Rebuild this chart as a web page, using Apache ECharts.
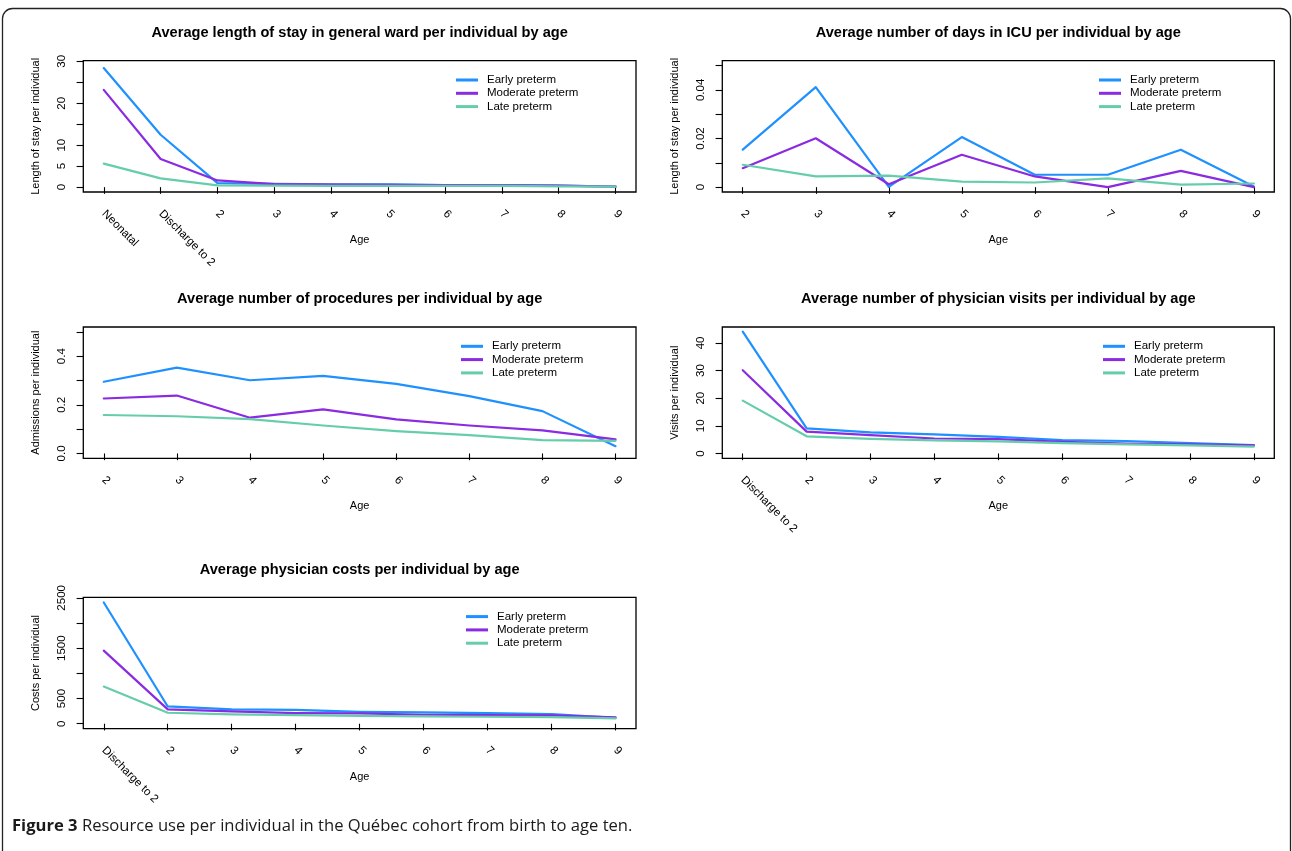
<!DOCTYPE html>
<html>
<head>
<meta charset="utf-8">
<script src="https://cdn.jsdelivr.net/npm/echarts@6/dist/echarts.min.js"></script>
<style>
html,body{margin:0;padding:0;background:#fff;}
#chart{width:1292px;height:851px;}
</style>
</head>
<body>
<div id="chart"></div>
<script>
// ---------- DATA ----------
const seriesNames = ['Early preterm', 'Moderate preterm', 'Late preterm'];

const catsWard = ['Neonatal', 'Discharge to 2', '2', '3', '4', '5', '6', '7', '8', '9'];
const catsAge = ['2', '3', '4', '5', '6', '7', '8', '9'];
const catsDischarge = ['Discharge to 2', '2', '3', '4', '5', '6', '7', '8', '9'];

// Panel 1: length of stay in general ward
const wardEarly    = [28.4, 12.5, 0.95, 0.8, 0.65, 0.65, 0.5, 0.5, 0.35, 0.15];
const wardModerate = [23.2, 6.7, 1.6, 0.7, 0.6, 0.55, 0.5, 0.45, 0.35, 0.1];
const wardLate     = [5.6, 2.1, 0.4, 0.35, 0.3, 0.3, 0.3, 0.3, 0.2, 0.1];
const wardTicks  = [0, 5, 10, 15, 20, 25, 30];
const wardLabels = [0, 5, 10, 20, 30];

// Panel 2: days in ICU
const icuEarly    = [0.0154, 0.0411, 0.0001, 0.0206, 0.0051, 0.0051, 0.0154, 0.0003];
const icuModerate = [0.0078, 0.0201, 0.0012, 0.0133, 0.0044, 0.0, 0.0067, 0.0];
const icuLate     = [0.0092, 0.0044, 0.0047, 0.0023, 0.0019, 0.0036, 0.0010, 0.0015];
const icuTicks  = [0, 0.01, 0.02, 0.03, 0.04, 0.05];
const icuLabels = [0, 0.02, 0.04];

// Panel 3: procedures
const procEarly    = [0.295, 0.353, 0.301, 0.319, 0.286, 0.236, 0.174, 0.030];
const procModerate = [0.226, 0.238, 0.147, 0.181, 0.140, 0.115, 0.095, 0.058];
const procLate     = [0.158, 0.153, 0.141, 0.115, 0.092, 0.075, 0.055, 0.052];
const procTicks  = [0, 0.1, 0.2, 0.3, 0.4, 0.5];
const procLabels = [0, 0.2, 0.4];

// Panel 4: physician visits
const visitEarly    = [44.1, 9.1, 7.6, 6.9, 6.0, 4.8, 4.5, 3.7, 3.0];
const visitModerate = [30.1, 7.9, 6.6, 5.4, 5.2, 4.2, 3.6, 3.3, 2.9];
const visitLate     = [19.1, 6.2, 5.3, 4.7, 4.4, 3.7, 3.3, 2.9, 2.5];
const visitTicks  = [0, 10, 20, 30, 40];
const visitLabels = [0, 10, 20, 30, 40];

// Panel 5: physician costs
const costEarly    = [2408, 343, 284, 277, 237, 224, 211, 191, 119];
const costModerate = [1451, 284, 244, 211, 204, 178, 171, 165, 125];
const costLate     = [739, 218, 185, 171, 158, 145, 139, 132, 106];
const costTicks  = [0, 500, 1000, 1500, 2000, 2500];
const costLabels = [0, 500, 1500, 2500];

// ---------- LAYOUT / STYLE ----------
const colors = ['#1E90FF', '#8A2BE2', '#66CDAA'];
const FONT = 'Liberation Sans, Arial, Helvetica, sans-serif';

const panels = [
  { title: 'Average length of stay in general ward per individual by age', yName: 'Length of stay per individual',
    cats: catsWard, data: [wardEarly, wardModerate, wardLate], yMin: -1.16, yMax: 30.16,
    ticks: wardTicks, labels: wardLabels, fmt: v => String(v),
    box: [83.3, 60.7, 552.7, 131.3], legendLeft: 456 },
  { title: 'Average number of days in ICU per individual by age', yName: 'Length of stay per individual',
    cats: catsAge, data: [icuEarly, icuModerate, icuLate], yMin: -0.002, yMax: 0.052,
    ticks: icuTicks, labels: icuLabels, fmt: v => (v === 0 ? '0' : v.toFixed(2)),
    box: [722.3, 60.7, 552, 131.3], legendLeft: 1099 },
  { title: 'Average number of procedures per individual by age', yName: 'Admissions per individual',
    cats: catsAge, data: [procEarly, procModerate, procLate], yMin: -0.02, yMax: 0.52,
    ticks: procTicks, labels: procLabels, fmt: v => v.toFixed(1),
    box: [83.3, 327, 552.7, 131.3], legendLeft: 461 },
  { title: 'Average number of physician visits per individual by age', yName: 'Visits per individual',
    cats: catsDischarge, data: [visitEarly, visitModerate, visitLate], yMin: -1.76, yMax: 45.76,
    ticks: visitTicks, labels: visitLabels, fmt: v => String(v),
    box: [722.3, 327, 552, 131.3], legendLeft: 1103 },
  { title: 'Average physician costs per individual by age', yName: 'Costs per individual',
    cats: catsDischarge, data: [costEarly, costModerate, costLate], yMin: -96.6, yMax: 2510.6,
    ticks: costTicks, labels: costLabels, fmt: v => String(v),
    box: [83.3, 597.3, 552.7, 131.3], legendLeft: 466 }
];

const textBase = { color: '#000', fontFamily: FONT };

const option = {
  animation: false,
  backgroundColor: '#fff',
  grid: panels.map(p => ({
    left: p.box[0], top: p.box[1], width: p.box[2], height: p.box[3],
    show: true, borderColor: '#000', borderWidth: 1.3, backgroundColor: 'transparent',
    containLabel: false, outerBoundsMode: 'none'
  })),
  xAxis: panels.map((p, i) => {
    const n = p.cats.length;
    const pad = 0.04 * (n - 1);
    const idx = p.cats.map((_, k) => k + 1);
    return {
      type: 'value', gridIndex: i, min: 1 - pad, max: n + pad,
      axisLine: { show: false },
      axisTick: { show: true, length: 6.7, lineStyle: { color: '#000', width: 1.1 }, customValues: idx },
      axisLabel: { customValues: idx, formatter: v => p.cats[Math.round(v) - 1], rotate: -45, margin: 20,
                   fontSize: 11.5, ...textBase },
      splitLine: { show: false },
      name: 'Age', nameLocation: 'middle', nameGap: 42.5, nameMoveOverlap: false,
      nameTextStyle: { fontSize: 11, ...textBase }
    };
  }),
  yAxis: panels.map((p, i) => ({
    type: 'value', gridIndex: i, min: p.yMin, max: p.yMax,
    axisLine: { show: false },
    axisTick: { show: true, length: 6.7, lineStyle: { color: '#000', width: 1.1 }, customValues: p.ticks },
    axisLabel: { customValues: p.labels, formatter: v => p.fmt(v), rotate: 90, margin: 15,
                 fontSize: 11.5, ...textBase },
    splitLine: { show: false },
    name: p.yName, nameLocation: 'middle', nameGap: 42, nameRotate: 90, nameMoveOverlap: false,
    nameTextStyle: { fontSize: 11, ...textBase }
  })),
  legend: panels.map(p => ({
    data: seriesNames, orient: 'vertical', left: p.legendLeft, top: p.box[1] + 12.65,
    itemWidth: 22, itemHeight: 3, itemGap: 0, icon: 'rect', padding: 0, selectedMode: false,
    textStyle: { fontSize: 11.5, lineHeight: 13.3, padding: [0, 0, 0, 4], ...textBase }
  })),
  series: [],
  graphic: []
};

panels.forEach((p, i) => {
  p.data.forEach((vals, s) => {
    option.series.push({
      type: 'line', name: seriesNames[s], xAxisIndex: i, yAxisIndex: i,
      data: vals.map((v, k) => [k + 1, v]),
      showSymbol: false, symbol: 'none', silent: true,
      lineStyle: { width: 2.2, color: colors[s], join: 'round', cap: 'round' },
      itemStyle: { color: colors[s] },
      emphasis: { disabled: true }
    });
  });
  option.graphic.push({
    type: 'text', x: p.box[0] + p.box[2] / 2, y: p.box[1] - 27.7,
    style: { text: p.title, align: 'center', verticalAlign: 'middle',
             font: 'bold 14.6px ' + FONT, fill: '#000' }
  });
});

// Figure frame and caption
option.graphic.push({
  type: 'rect', shape: { x: 2.5, y: 8.5, width: 1288, height: 1000, r: 10 },
  style: { fill: 'none', stroke: '#222', lineWidth: 1.3 }, z: -1
});
option.graphic.push({
  type: 'text', x: 12, y: 826,
  style: {
    text: '{b|Figure 3} Resource use per individual in the Québec cohort from birth to age ten.',
    verticalAlign: 'middle', fill: '#1a1a1a',
    font: '16.6px "Open Sans", sans-serif',
    rich: { b: { fontWeight: 'bold', fontSize: 16.6, fontFamily: '"Open Sans", sans-serif', fill: '#1a1a1a' } }
  }
});

const chart = echarts.init(document.getElementById('chart'), null, { renderer: 'canvas' });
chart.setOption(option);
</script>
</body>
</html>
